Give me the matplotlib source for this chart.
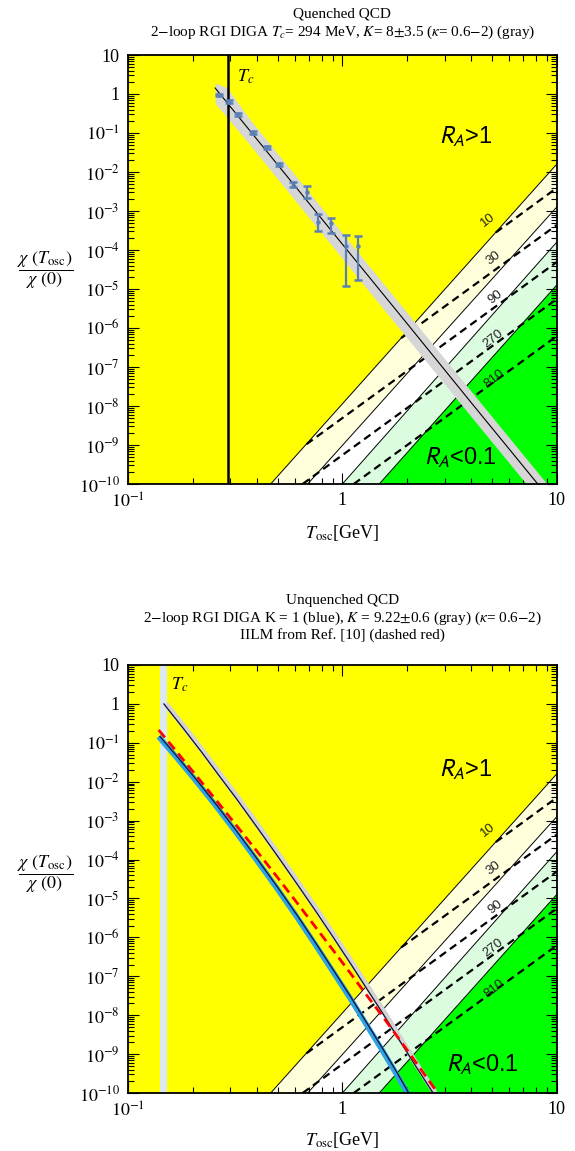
import numpy as np
import matplotlib
matplotlib.use('Agg')
import matplotlib.pyplot as plt
import matplotlib.patheffects as pe
from matplotlib.ticker import LogLocator, NullFormatter

plt.rcParams['font.family'] = ['Liberation Serif', 'DejaVu Serif']
plt.rcParams['mathtext.fontset'] = 'stix'

# ---------------- data ----------------
# region boundaries (solid lines): start T at chi=1e-10, chi at T=10
bound_T0 = [0.463, 0.689, 1.0, 1.486]
bound_chi10 = [10**-1.80, 10**-2.90, 10**-3.80, 10**-4.90]
region_colors = ['#ffffdc', '#ffffff', '#dcfcdf', '#00ff00']

# dashed contour lines (drawn only below the R_A=1 line): start and end points
dash_T0 = [5.2, 1.88, 0.68, 0.653, 1.13]
dash_logchi0 = [-3.55, -6.26, -8.98, -10.0, -10.0]
dash_T1 = [10, 10, 10, 10, 10]
dash_logchi1 = [-2.41, -3.36, -4.31, -5.26, -6.21]
dash_labels = ['10', '30', '90', '270', '810']
lab_T = [4.80, 5.07, 5.18, 5.07, 5.12]
lab_logchi = [-3.23, -4.21, -5.21, -6.28, -7.31]

# quenched: lattice points
q_T = [0.265, 0.295, 0.325, 0.384, 0.446, 0.506, 0.590, 0.687, 0.771, 0.884, 1.038, 1.186]
q_chi = [0.94, 0.64, 0.30, 0.102, 0.043, 0.0157, 0.0051, 0.0031, 5.3e-4, 4.8e-4, 1.25e-4, 1.26e-4]
q_lo = [0.87, 0.59, 0.28, 0.094, 0.039, 0.0143, 0.0042, 0.00214, 3.1e-4, 2.75e-4, 1.2e-5, 1.7e-5]
q_hi = [1.02, 0.70, 0.33, 0.111, 0.047, 0.0173, 0.0056, 0.00437, 8.3e-4, 6.8e-4, 2.4e-4, 2.3e-4]

# quenched DIGA line and band (log10 chi)
qline_T = [0.255, 0.5, 1.0, 2.0, 4.0, 8.3]
qline_logchi = [0.154, -1.82, -3.85, -5.88, -7.92, -10.05]
qband_T = [0.255, 0.29, 0.37, 0.6, 1.0, 2.0, 4.0, 8.0, 10.0]
qband_loghi = [0.28, 0.16, -0.65, -2.07, -3.57, -5.6, -7.63, -9.65, -10.3]
qband_loglo = [-0.24, -0.6, -1.30, -2.72, -4.22, -6.25, -8.28, -10.3, -10.95]
Tc_q = 0.294

# unquenched curves (log10 chi)
g_T = [0.147, 0.18, 0.22, 0.26, 0.32, 0.4, 0.5, 0.615, 0.75, 0.9, 1.1, 1.3, 1.55, 1.81, 2.2, 2.65]
g_logchi = [0.0, -0.61, -1.23, -1.77, -2.43, -3.17, -3.92, -4.63, -5.32, -5.97, -6.70, -7.32,
            -7.97, -8.57, -9.31, -10.0]
b_T = [0.141, 0.17, 0.21, 0.26, 0.32, 0.4, 0.5, 0.62, 0.76, 0.92, 1.1, 1.3, 1.55, 1.8, 2.04]
b_logchi = [-0.84, -1.36, -1.97, -2.61, -3.26, -3.98, -4.72, -5.46, -6.19, -6.89, -7.55, -8.20,
            -8.88, -9.48, -10.0]
r_T = [0.139, 0.17, 0.21, 0.26, 0.32, 0.4, 0.5, 0.62, 0.76, 0.92, 1.1, 1.3, 1.55, 1.8, 2.1, 2.45, 2.79]
r_logchi = [-0.67, -1.25, -1.87, -2.50, -3.12, -3.79, -4.47, -5.14, -5.78, -6.38, -6.95, -7.49,
            -8.05, -8.54, -9.05, -9.57, -10.0]
Tc_u_lo, Tc_u_hi = 0.141, 0.152

yticks = [10.0**k for k in range(-10, 2)]
ylabels = ['$10^{%d}$' % k for k in range(-10, 0)] + ['1', '10']
xticks = [0.1, 1, 10]
xlabels = ['$10^{-1}$', '1', '10']


def p10(v):
    return 10.0 ** np.asarray(v, dtype=float)


# ---------------- figure ----------------
W, H = 575, 1151
fig = plt.figure(figsize=(W/100, H/100), dpi=100)
L, R = 128, 556.7
ax1 = fig.add_axes([L/W, 1-484/H, (R-L)/W, (484-55)/H])
ax2 = fig.add_axes([L/W, 1-1093/H, (R-L)/W, (1093-665)/H])


def base(ax, ra1_pos, ra01_pos):
    ax.set_xscale('log'); ax.set_yscale('log')
    ax.set_xlim(0.1, 10); ax.set_ylim(1e-10, 10)
    ax.set_facecolor('#ffff00')
    for t0, c10, col in zip(bound_T0, bound_chi10, region_colors):
        ax.fill([t0, 10, 10], [1e-10, c10, 1e-10], color=col, lw=0, zorder=1)
    for t0, c10 in zip(bound_T0, bound_chi10):
        ax.plot([t0, 10], [1e-10, c10], color='k', lw=0.7, zorder=2)
    for a, b, c, d in zip(dash_T0, dash_logchi0, dash_T1, dash_logchi1):
        ax.plot([a, c], p10([b, d]), color='k', lw=1.6, dashes=(3.5, 2.2), zorder=3)
    for t, c, s in zip(lab_T, lab_logchi, dash_labels):
        ax.text(t, 10**c, s, rotation=38, fontsize=9.5, family='Liberation Sans',
                color='#222222', ha='center', va='center', zorder=4)
    ax.set_xticks(xticks); ax.set_xticklabels(xlabels, fontsize=13)
    ax.set_yticks(yticks); ax.set_yticklabels(ylabels, fontsize=13)
    ax.xaxis.set_minor_locator(LogLocator(base=10, subs=range(2, 10), numticks=20))
    ax.yaxis.set_minor_locator(LogLocator(base=10, subs=range(2, 10), numticks=30))
    ax.xaxis.set_minor_formatter(NullFormatter())
    ax.yaxis.set_minor_formatter(NullFormatter())
    ax.tick_params(which='both', direction='in', top=True, right=True, width=0.8)
    ax.tick_params(which='major', length=8, pad=6)
    ax.tick_params(which='minor', length=4)
    for s in ax.spines.values():
        s.set_linewidth(1.3)
        s.set_zorder(10)
    ax.text(ra1_pos[0], 10**ra1_pos[1], r'$R_A$>1', fontsize=17, family='Liberation Sans',
            math_fontfamily='stixsans', ha='center', va='center', zorder=9)
    ax.text(ra01_pos[0], 10**ra01_pos[1], r'$R_A$<0.1', fontsize=17, family='Liberation Sans',
            math_fontfamily='stixsans', ha='center', va='center', zorder=9)


base(ax1, (3.75, -1.10), (3.55, -9.33))
ax1.fill_between(qband_T, p10(qband_loglo), p10(qband_loghi), color='#d6d6d6', lw=0, zorder=5)
ax1.plot(qline_T, p10(qline_logchi), color='k', lw=0.8, zorder=6)
ax1.axvline(Tc_q, color='k', lw=1.8, zorder=6)
ax1.text(0.353, 10**0.44, r'$T_c$', fontsize=13, ha='center', va='center', zorder=7)
q_chi_a = np.array(q_chi)
ax1.errorbar(q_T, q_chi, yerr=[q_chi_a-np.array(q_lo), np.array(q_hi)-q_chi_a], fmt='o', ms=2.2,
             color='#5b80b5', ecolor='#5b80b5', elinewidth=1.6, capsize=3, capthick=1.8, zorder=8)

base(ax2, (3.75, -1.70), (4.50, -9.28))
ax2.axvspan(Tc_u_lo, Tc_u_hi, color='#dce9f2', lw=0, zorder=5)
ax2.text(0.175, 10**0.49, r'$T_c$', fontsize=13, ha='center', va='center', zorder=7)
ax2.plot(g_T, p10(g_logchi), color='#d3d3d3', lw=4.0, solid_capstyle='butt', zorder=6,
         path_effects=[pe.Stroke(offset=(1.4, 0))])
ax2.plot(g_T, p10(g_logchi), color='#101030', lw=0.9, zorder=7)
ax2.plot(b_T, p10(b_logchi), color='#2ea3e3', lw=4.0, solid_capstyle='butt', zorder=6,
         path_effects=[pe.Stroke(offset=(-1.0, 0))])
ax2.plot(b_T, p10(b_logchi), color='#101030', lw=0.9, zorder=7)
ax2.plot(r_T, p10(r_logchi), color='#ff0000', lw=2, dashes=(3.5, 2.0), zorder=8)

# titles and labels
cx = (L+R)/2/W
fig.text(cx, 1-14/H, 'Quenched QCD', ha='center', va='center', fontsize=11)
fig.text(cx, 1-32/H, r'2$-$loop RGI DIGA $T_c$= 294 MeV, $K$= 8$\pm$3.5 ($\kappa$= 0.6$-$2) (gray)',
         ha='center', va='center', fontsize=11)
fig.text(cx, 1-601/H, 'Unquenched QCD', ha='center', va='center', fontsize=11)
fig.text(cx, 1-618/H, r'2$-$loop RGI DIGA K = 1 (blue), $K$ = 9.22$\pm$0.6 (gray) ($\kappa$= 0.6$-$2)',
         ha='center', va='center', fontsize=11)
fig.text(cx, 1-635/H, 'IILM from Ref. [10] (dashed red)', ha='center', va='center', fontsize=11)

ylab = r'$\dfrac{\chi\ (T_{\mathrm{osc}})}{\chi\ (0)}$'
fig.text(45/W, 1-270/H, ylab, ha='center', va='center', fontsize=13)
fig.text(45/W, 1-874/H, ylab, ha='center', va='center', fontsize=13)
fig.text(cx, 1-533/H, r'$T_{\mathrm{osc}}$[GeV]', ha='center', va='center', fontsize=13)
fig.text(cx, 1-1140/H, r'$T_{\mathrm{osc}}$[GeV]', ha='center', va='center', fontsize=13)

fig.savefig('out.png', dpi=100)
